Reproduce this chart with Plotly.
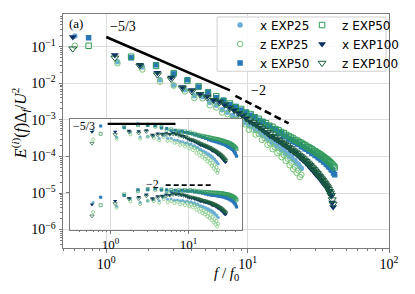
import numpy as np
import plotly.graph_objects as go

# ---------------- data (frequencies f/f0 and log10 of E(f)Δf/U^2) ----------------
f25 = [0.6, 1.2, 1.8, 2.4, 3.0, 3.6, 4.2, 4.8, 5.4, 6.0, 6.6, 7.2, 7.8, 8.4, 9.0, 9.6, 10.2, 10.8, 11.4, 12.0,
       12.6, 13.2, 13.8, 14.4, 15.0, 15.6, 16.2, 16.8, 17.4, 18.0, 18.6, 19.2, 19.8, 20.4, 21.0, 21.6, 22.2, 22.8, 23.4, 24.0]
f50 = [0.75, 1.5, 2.25, 3.0, 3.75, 4.5, 5.25, 6.0, 6.75, 7.5, 8.25, 9.0, 9.75, 10.5, 11.25, 12.0, 12.75, 13.5, 14.25, 15.0,
       15.75, 16.5, 17.25, 18.0, 18.75, 19.5, 20.25, 21.0, 21.75, 22.5, 23.25, 24.0, 24.75, 25.5, 26.25, 27.0, 27.75, 28.5, 29.25, 30.0,
       30.75, 31.5, 32.25, 33.0, 33.75, 34.5, 35.25, 36.0, 36.75, 37.5, 38.25, 39.0, 39.75, 40.5, 41.25]
f100 = [0.58, 1.15, 1.73, 2.30, 2.88, 3.45, 4.03, 4.60, 5.18, 5.75, 6.33, 6.90, 7.48, 8.05, 8.63, 9.20, 9.78, 10.35, 10.93, 11.50,
        12.08, 12.65, 13.23, 13.80, 14.38, 14.95, 15.53, 16.10, 16.68, 17.25, 17.83, 18.40, 18.98, 19.55, 20.13, 20.70, 21.28, 21.85, 22.43, 23.00,
        23.58, 24.15, 24.73, 25.30, 25.88, 26.45, 27.03, 27.60, 28.18, 28.75, 29.33, 29.90, 30.48, 31.05, 31.63, 32.20, 32.78, 33.35, 33.93, 34.50,
        35.08, 35.65, 36.23, 36.80, 37.38, 37.95, 38.53, 39.10, 39.68, 40.25]

logE_x25 = [-0.70, -1.41, -1.55, -1.90, -2.04, -2.17, -2.34, -2.36, -2.52, -2.60,
            -2.72, -2.79, -2.88, -2.94, -3.03, -3.07, -3.16, -3.19, -3.28, -3.31,
            -3.40, -3.43, -3.52, -3.55, -3.62, -3.65, -3.72, -3.74, -3.82, -3.83,
            -3.91, -3.92, -4.00, -4.01, -4.09, -4.11, -4.19, -4.21, -4.28, -4.33]
logE_z25 = [-0.97, -1.45, -1.62, -1.95, -2.06, -2.22, -2.40, -2.41, -2.60, -2.66,
            -2.80, -2.84, -2.98, -3.00, -3.13, -3.12, -3.27, -3.26, -3.40, -3.38,
            -3.55, -3.50, -3.68, -3.64, -3.80, -3.75, -3.90, -3.86, -4.02, -3.96,
            -4.12, -4.06, -4.24, -4.17, -4.35, -4.28, -4.45, -4.38, -4.56, -4.50]
logE_x50 = [-0.75, -1.30, -1.49, -1.74, -1.90, -2.10, -2.23, -2.39, -2.46, -2.58,
            -2.63, -2.73, -2.79, -2.87, -2.92, -3.01, -3.05, -3.13, -3.17, -3.24,
            -3.27, -3.34, -3.37, -3.44, -3.46, -3.52, -3.54, -3.59, -3.61, -3.66,
            -3.67, -3.73, -3.74, -3.79, -3.80, -3.85, -3.86, -3.91, -3.92, -3.97,
            -3.98, -4.03, -4.04, -4.09, -4.10, -4.15, -4.16, -4.21, -4.23, -4.28,
            -4.30, -4.36, -4.38, -4.45, -4.50]
logE_z50 = [-0.97, -1.27, -1.52, -1.72, -1.93, -2.08, -2.26, -2.35, -2.48, -2.55,
            -2.65, -2.70, -2.80, -2.84, -2.93, -2.97, -3.05, -3.09, -3.16, -3.19,
            -3.25, -3.28, -3.33, -3.36, -3.41, -3.44, -3.48, -3.51, -3.55, -3.57,
            -3.61, -3.63, -3.67, -3.69, -3.73, -3.75, -3.78, -3.80, -3.84, -3.86,
            -3.89, -3.91, -3.94, -3.96, -3.99, -4.02, -4.05, -4.07, -4.10, -4.13,
            -4.16, -4.19, -4.22, -4.26, -4.30]
logE_x100 = [-0.73, -1.22, -1.49, -1.71, -1.84, -2.10, -2.18, -2.28, -2.35, -2.45,
             -2.49, -2.59, -2.65, -2.75, -2.80, -2.89, -2.97, -3.04, -3.10, -3.14,
             -3.21, -3.26, -3.32, -3.37, -3.43, -3.45, -3.51, -3.54, -3.59, -3.61,
             -3.67, -3.69, -3.74, -3.77, -3.83, -3.84, -3.89, -3.91, -3.96, -3.98,
             -4.04, -4.05, -4.11, -4.12, -4.18, -4.20, -4.26, -4.27, -4.34, -4.35,
             -4.41, -4.43, -4.49, -4.50, -4.56, -4.57, -4.63, -4.65, -4.71, -4.72,
             -4.78, -4.79, -4.85, -4.87, -4.94, -4.96, -5.04, -5.09, -5.26, -5.38]
logE_z100 = [-1.05, -1.30, -1.52, -1.76, -1.88, -2.13, -2.22, -2.30, -2.39, -2.46,
             -2.52, -2.58, -2.68, -2.73, -2.82, -2.87, -2.95, -3.02, -3.07, -3.13,
             -3.18, -3.24, -3.28, -3.34, -3.38, -3.44, -3.47, -3.52, -3.55, -3.60,
             -3.63, -3.67, -3.70, -3.75, -3.78, -3.82, -3.85, -3.89, -3.92, -3.96,
             -3.99, -4.03, -4.06, -4.10, -4.13, -4.17, -4.20, -4.24, -4.28, -4.31,
             -4.35, -4.39, -4.42, -4.46, -4.50, -4.54, -4.58, -4.61, -4.65, -4.69,
             -4.73, -4.77, -4.81, -4.85, -4.90, -4.95, -5.00, -5.06, -5.18, -5.30]

series_names = ["x EXP25", "z EXP25", "x EXP50", "z EXP50", "x EXP100", "z EXP100"]

# reference slopes
slope_main_53 = dict(f=[1.0, 7.5], E0=0.186)      # E = E0 f^(-5/3)
slope_main_2 = dict(f=[8.2, 19.5], E0=10**-2.34)   # E = E0 (f/8.2)^(-2)
INSET_F100_MAX = 30.0
INSET_LOWER_SCALE = 10**-1.965
inset_level_53 = 10**-0.90
inset_level_2 = 10**-2.62
inset_line_53_f = [0.92, 6.8]
inset_line_2_f = [5.1, 19.5]

# ---------------- style ----------------
SERIF = "Liberation Serif, DejaVu Serif, serif"
SANS = "DejaVu Sans, sans-serif"
GRID = "#dddddd"
SPINE = "#7a7a7a"

styles = {
    "x EXP25": dict(symbol="circle", color="#6baed6", size=5.5),
    "z EXP25": dict(symbol="circle-open", color="#74c476", size=5.5),
    "x EXP50": dict(symbol="square", color="#2878b8", size=5.5),
    "z EXP50": dict(symbol="square-open", color="#2f9a5a", size=5.5),
    "x EXP100": dict(symbol="triangle-down", color="#0b2f66", size=7),
    "z EXP100": dict(symbol="triangle-down-open", color="#1b5e3b", size=7),
}

W, H = 415, 294
L, R, T, B = 63, 22, 11, 46
PW, PH = W - L - R, H - T - B


def px_x(px):
    return (px - L) / PW


def px_y(py):
    return (H - B - py) / PH


data = {
    "x EXP25": (f25, logE_x25),
    "z EXP25": (f25, logE_z25),
    "x EXP50": (f50, logE_x50),
    "z EXP50": (f50, logE_z50),
    "x EXP100": (f100, logE_x100),
    "z EXP100": (f100, logE_z100),
}

fig = go.Figure()

# main traces
for i, name in enumerate(series_names):
    f, le = data[name]
    f = np.array(f)
    E = 10 ** np.array(le)
    st = styles[name]
    open_ = st["symbol"].endswith("open")
    fig.add_trace(go.Scatter(
        x=f, y=E, mode="markers", name=name,
        legend="legend" if i < 3 else "legend2",
        marker=dict(symbol=st["symbol"], size=st["size"], color=st["color"],
                    line=dict(width=1 if open_ else 0, color=st["color"])),
        xaxis="x", yaxis="y"))

# main reference lines
f53 = np.array(slope_main_53["f"])
fig.add_trace(go.Scatter(x=f53, y=slope_main_53["E0"] * f53 ** (-5 / 3), mode="lines",
                         line=dict(color="black", width=2.6), showlegend=False, xaxis="x", yaxis="y"))
f2 = np.array(slope_main_2["f"])
fig.add_trace(go.Scatter(x=f2, y=slope_main_2["E0"] * (f2 / f2[0]) ** (-2), mode="lines",
                         line=dict(color="black", width=2.6, dash="7px,4px"), showlegend=False,
                         xaxis="x", yaxis="y"))

# inset traces (compensated spectra)
for comp, scale in ((5 / 3, 1.0), (2.0, INSET_LOWER_SCALE)):
    for name in series_names:
        f, le = data[name]
        f = np.array(f)
        E = 10 ** np.array(le)
        if "100" in name:
            m = f <= INSET_F100_MAX
            f, E = f[m], E[m]
        st = styles[name]
        open_ = st["symbol"].endswith("open")
        fig.add_trace(go.Scatter(
            x=f, y=E * f ** comp * scale, mode="markers", showlegend=False,
            marker=dict(symbol=st["symbol"], size=st["size"] * 0.55, color=st["color"],
                        line=dict(width=0.7 if open_ else 0, color=st["color"])),
            xaxis="x2", yaxis="y2"))

fig.add_trace(go.Scatter(x=inset_line_53_f, y=[inset_level_53] * 2, mode="lines",
                         line=dict(color="black", width=2.2), showlegend=False, xaxis="x2", yaxis="y2"))
fig.add_trace(go.Scatter(x=inset_line_2_f, y=[inset_level_2] * 2, mode="lines",
                         line=dict(color="black", width=1.8, dash="5px,3px"), showlegend=False,
                         xaxis="x2", yaxis="y2"))


def minor_vals(lo, hi):
    out = []
    for k in range(lo, hi + 1):
        for m in range(2, 10):
            out.append(m * 10.0 ** k)
    return out


def sup(k):
    return "10<sup>" + (str(k) if k >= 0 else "\u2212" + str(-k)) + "</sup>"


axis_common = dict(type="log", showline=True, linecolor=SPINE, linewidth=1, mirror=True,
                   ticks="outside", ticklen=3.5, tickcolor=SPINE, tickwidth=0.8,
                   showgrid=True, gridcolor=GRID, gridwidth=1, zeroline=False,
                   tickfont=dict(family=SERIF, size=14, color="black"))

fig.update_layout(
    width=W, height=H, margin=dict(l=L, r=R, t=T, b=B),
    plot_bgcolor="white", paper_bgcolor="white",
    xaxis=dict(**axis_common, domain=[0, 1], anchor="y", range=[-0.306, 2.0],
               tickmode="array", tickvals=[1, 10, 100], ticktext=[sup(0), sup(1), sup(2)],
               minor=dict(tickmode="array", tickvals=minor_vals(-1, 1), ticks="outside", ticklen=2,
                          tickcolor=SPINE, showgrid=False)),
    yaxis=dict(**axis_common, domain=[0, 1], anchor="x", range=[-6.505, -0.1],
               tickmode="array", tickvals=[10.0 ** k for k in range(-6, 0)],
               ticktext=[sup(k) for k in range(-6, 0)],
               minor=dict(tickmode="array", tickvals=minor_vals(-7, -1), ticks="outside", ticklen=2,
                          tickcolor=SPINE, showgrid=False)),
    xaxis2=dict(type="log", domain=[px_x(70), px_x(244.3)], anchor="y2", range=[-0.519, 1.686],
                showline=True, linecolor=SPINE, linewidth=1, mirror=True,
                ticks="outside", ticklen=3, tickcolor=SPINE, tickwidth=0.8,
                showgrid=True, gridcolor=GRID, zeroline=False,
                tickmode="array", tickvals=[1, 10], ticktext=[sup(0), sup(1)],
                tickfont=dict(family=SERIF, size=13, color="black"),
                minor=dict(tickmode="array", tickvals=minor_vals(-1, 1), ticks="outside", ticklen=1.8,
                           tickcolor=SPINE, showgrid=False)),
    yaxis2=dict(type="log", domain=[px_y(229.3), px_y(117.3)], anchor="x2", range=[-3.87, -0.76],
                showline=True, linecolor=SPINE, linewidth=1, mirror=True,
                ticks="outside", ticklen=3, tickcolor=SPINE, tickwidth=0.8,
                showgrid=False, zeroline=False, showticklabels=False,
                tickmode="array", tickvals=[10 ** -1.815, 10 ** -2.84]),
    legend=dict(x=px_x(222), y=px_y(7.5), xanchor="left", yanchor="top", bgcolor="rgba(0,0,0,0)",
                borderwidth=0, font=dict(family=SANS, size=12, color="black"), tracegroupgap=0),
    legend2=dict(x=px_x(305), y=px_y(7.5), xanchor="left", yanchor="top", bgcolor="rgba(0,0,0,0)",
                 borderwidth=0, font=dict(family=SANS, size=12, color="black"), tracegroupgap=0),
    showlegend=True,
)

# legend frame
fig.add_shape(type="rect", xref="paper", yref="paper", x0=px_x(219), x1=px_x(390), y0=px_y(69), y1=px_y(14),
              line=dict(color="#d0d0d0", width=1), fillcolor="rgba(255,255,255,0.85)", layer="above")

ann = [
    dict(text="(a)", x=px_x(76), y=px_y(21), size=13),
    dict(text="\u22125/3", x=px_x(124), y=px_y(24), size=14),
    dict(text="\u22122", x=px_x(261), y=px_y(88), size=14),
    dict(text="\u22125/3", x=px_x(84), y=px_y(124), size=12),
    dict(text="\u22122", x=px_x(154), y=px_y(183), size=12),
    dict(text="<i>f</i> / <i>f</i><sub>0</sub>", x=px_x(228), y=px_y(274), size=15),
]
for a in ann:
    fig.add_annotation(text=a["text"], x=a["x"], y=a["y"], xref="paper", yref="paper",
                       showarrow=False, xanchor="center", yanchor="middle",
                       font=dict(family=SERIF, size=a["size"], color="black"))
fig.add_annotation(text="<i>E</i><sup>(<i>i</i>)</sup>(<i>f</i>)\u0394<sub><i>f</i></sub>/<i>U</i><sup>2</sup>",
                   x=px_x(19), y=px_y(122), xref="paper", yref="paper", showarrow=False, textangle=-90,
                   xanchor="center", yanchor="middle", font=dict(family=SERIF, size=16, color="black"))

fig.write_html("out.html", config={"displayModeBar": False},
               post_script="document.body.style.margin='0';document.body.style.padding='0';")
